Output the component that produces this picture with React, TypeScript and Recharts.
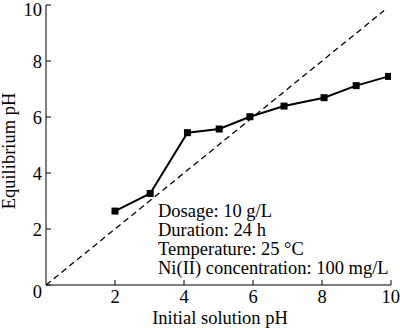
import React from 'react';
import { LineChart, Line, XAxis, YAxis, Customized } from 'recharts';

const initialPh = [2, 3.02, 4.1, 5.02, 5.91, 6.9, 8.06, 8.99, 9.93];
const equilibriumPh = [2.64, 3.27, 5.44, 5.57, 6.01, 6.39, 6.69, 7.12, 7.45];
const diagonalEnds = [0, 9.8];
const xTicks = [2, 4, 6, 8, 10];
const yTicks = [0, 2, 4, 6, 8, 10];
const conditions = [
  'Dosage: 10 g/L',
  'Duration: 24 h',
  'Temperature: 25 °C',
  'Ni(II) concentration: 100 mg/L',
];

const font = '"Liberation Serif", "Times New Roman", serif';

const measured = initialPh.map((x, i) => ({ x, y: equilibriumPh[i] }));
const diagonal = diagonalEnds.map((v) => ({ x: v, y: v }));

const SquareDot = (props: any) => {
  const { cx, cy, index } = props;
  return <rect key={`sq-${index}`} x={cx - 3.5} y={cy - 3.5} width={7} height={7} fill="#000" />;
};

const YTick = (props: any) => {
  const { x, y, payload } = props;
  return (
    <text x={x} y={y} dy={payload.value === 0 ? 13 : 6.5} textAnchor="end" fontSize={18.5} fontFamily={font} fill="#000">
      {payload.value}
    </text>
  );
};

// axis titles and the test conditions block
const Texts = () => (
  <g fontFamily={font} fontSize={18.5} fill="#000">
    <text x={-151} y={15} transform="rotate(-90)" textAnchor="middle">Equilibrium pH</text>
    <text x={220} y={324} textAnchor="middle">Initial solution pH</text>
    {conditions.map((line, i) => (
      <text key={line} x={158} y={217 + i * 19}>
        {line}
      </text>
    ))}
  </g>
);

const App: React.FC = () => {
  return (
    <div style={{ position: 'absolute', left: 0, top: 0, width: 400, height: 328, background: '#fff' }}>
      <LineChart width={400} height={328} margin={{ top: 5, right: 9, bottom: 0, left: 0 }}>
        <XAxis
          dataKey="x"
          type="number"
          domain={[0, 10]}
          ticks={xTicks}
          allowDataOverflow
          stroke="#000"
          tickSize={-5}
          tickMargin={10}
          height={43}
          tick={{ fontSize: 18.5, fontFamily: font, fill: '#000' }}
        />
        <XAxis xAxisId="top" orientation="top" type="number" domain={[0, 10]} height={0} tick={false} tickLine={false} stroke="#000" />
        <YAxis
          type="number"
          domain={[0, 10]}
          ticks={yTicks}
          stroke="#000"
          tickSize={-5}
          tickMargin={9}
          width={46}
          tick={<YTick />}
        />
        <YAxis yAxisId="right" orientation="right" type="number" domain={[0, 10]} width={0} tick={false} tickLine={false} stroke="#000" />
        <Line
          data={diagonal}
          dataKey="y"
          stroke="#000"
          strokeWidth={1.3}
          strokeDasharray="6 4"
          dot={false}
          isAnimationActive={false}
        />
        <Line
          data={measured}
          dataKey="y"
          stroke="#000"
          strokeWidth={2}
          dot={<SquareDot />}
          isAnimationActive={false}
        />
        <Customized component={<Texts />} />
      </LineChart>
    </div>
  );
};

export default App;
